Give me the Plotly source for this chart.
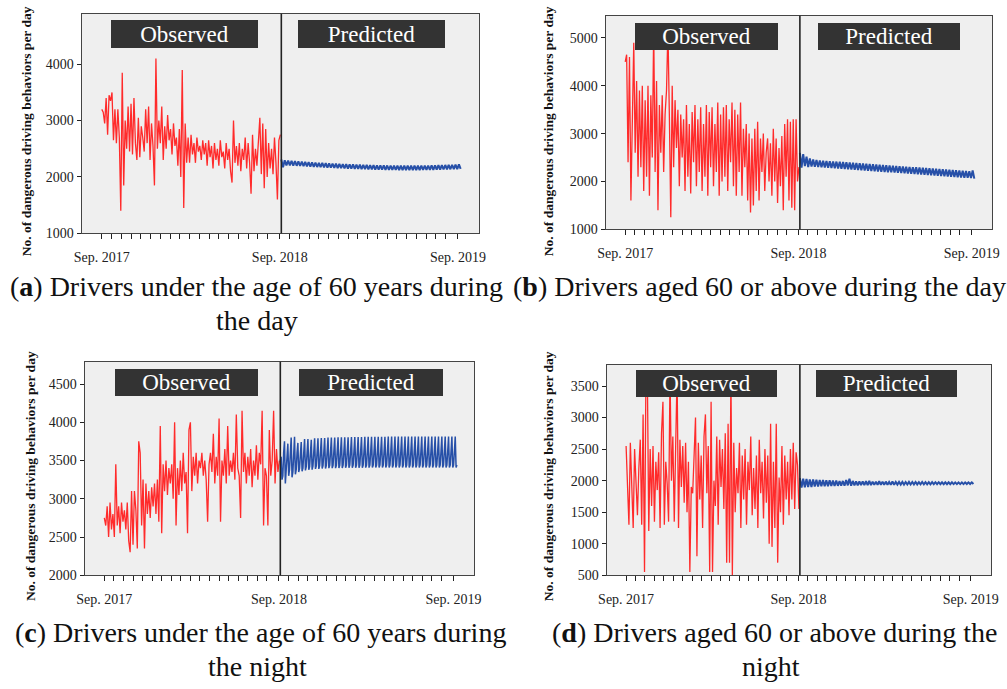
import plotly.graph_objects as go

W, H = 1007, 689

# ---------------- data ----------------
OBS_STEP = 3          # days between observed samples (day 0 = Sep. 2017)
PRED_START = 368      # first predicted day
WEEK = 7

TICK_DAYS = [0, 365, 730]
TICK_TEXT = ["Sep. 2017", "Sep. 2018", "Sep. 2019"]
MINOR_TICK_DAYS = [0, 20, 40, 60, 80, 100, 120, 140, 160, 180, 200, 220, 240, 260,
                   280, 300, 320, 340, 365, 385, 405, 425, 445, 465, 485, 505, 525,
                   545, 565, 585, 605, 625, 645, 665, 685, 705, 730]

OBS_A = [3200, 3150, 2950, 3400, 2750, 3450, 3350, 3500, 2650, 3200,
         2600, 3200, 2700, 1400, 3850, 1850, 3000, 2500, 3250, 2450,
         3300, 2400, 3400, 2600, 2300, 3050, 2350, 2900, 2700, 2450,
         3200, 2600, 3250, 2300, 2950, 2550, 1850, 4100, 2500, 3000,
         2600, 3250, 2300, 2900, 2500, 3100, 2650, 2850, 2400, 2950,
         2550, 2700, 2200, 2850, 2000, 3900, 1450, 2950, 2250, 2700,
         2250, 2750, 2400, 2600, 2250, 2700, 2450, 2550, 2300, 2650,
         2400, 2600, 2200, 2650, 2350, 2550, 2150, 2600, 2300, 2500,
         2200, 2650, 2350, 2450, 2150, 2600, 2300, 2500, 2100, 1900,
         3000, 2250, 2550, 2200, 2600, 2100, 2500, 2300, 2700, 2150,
         2600, 2250, 1700, 2750, 2100, 2500, 2200, 2650, 3050, 2050,
         2950, 1800, 2850, 2000, 2600, 2150, 2500, 2050, 2700, 2250,
         1600, 2650, 2750]

OBS_B = [4500, 4650, 2400, 4600, 1600, 3100, 4900, 2600, 4100, 2100,
         3900, 2300, 4000, 1800, 3700, 2100, 4000, 1700, 3800, 2500,
         5200, 2200, 4100, 1400, 3600, 2600, 3800, 2200, 3400, 3900,
         5200, 3400, 1250, 4000, 2300, 3700, 2700, 3500, 1900, 3400,
         2500, 3300, 1800, 3600, 2100, 3200, 1750, 3450, 2400, 3600,
         1900, 3300, 2200, 3550, 1800, 3200, 2100, 3600, 1700, 3450,
         2300, 3550, 1900, 3200, 2200, 3650, 1700, 3400, 2000, 3550,
         2100, 3600, 1800, 3300, 2400, 3650, 1900, 3500, 1700, 3400,
         2200, 3650, 1700, 3100, 2300, 3200, 1600, 3000, 1350, 2900,
         1500, 3100, 1800, 3250, 1600, 2900, 2200, 3000, 1800, 2600,
         2900, 2000, 2800, 1700, 3100, 2000, 2900, 1550, 2700, 1900,
         2950, 1400, 3200, 2100, 3300, 1600, 3250, 1450, 3300, 1400,
         3300, 2000, 2300]

OBS_C = [2750, 2650, 2900, 2500, 2950, 2600, 2800, 2500, 3450, 2650,
         2900, 2550, 2950, 2700, 2850, 2600, 2950, 2450, 2300, 3100,
         2400, 3100, 2850, 2350, 3750, 3600, 2650, 3250, 2350, 3200,
         2800, 3100, 2750, 3150, 2900, 3200, 2800, 3250, 2700, 3950,
         2550, 3450, 3100, 3500, 3050, 3400, 3200, 3450, 3000, 4000,
         2650, 3400, 3050, 3500, 3100, 3600, 3200, 3350, 2550, 3900,
         4000, 3100, 3550, 3300, 3600, 3200, 3500, 3400, 3600, 3300,
         3500, 3250, 2700, 3450, 3600, 3350, 3850, 3200, 3550, 3300,
         4050, 2700, 3500, 3300, 3650, 3200, 3950, 3300, 3500, 3350,
         3600, 3250, 4100, 3400, 3300, 2750, 4150, 3350, 3600, 3200,
         3550, 3300, 3650, 3150, 3500, 3300, 3700, 3250, 3600, 3450,
         4150, 2650, 3400, 3300, 2650, 3900, 3300, 3500, 4150, 3200,
         3650, 3350, 3500]

OBS_D = [2550, 1750, 1300, 2600, 1800, 1250, 2500, 1900, 1450, 2200,
         2650, 1300, 3050, 550, 3700, 3700, 1200, 2500, 1600, 2550,
         1350, 2300, 1850, 2450, 1250, 2750, 3250, 1300, 2300, 1950,
         1350, 3700, 2000, 2700, 1350, 2550, 3700, 1250, 2650, 1900,
         2550, 1650, 2600, 1500, 2300, 550, 1900, 1800, 2600, 3000,
         800, 2600, 1700, 2400, 1250, 2700, 3050, 1800, 2550, 550,
         3250, 550, 2000, 1600, 2700, 1300, 2650, 1900, 2500, 1550,
         2750, 700, 2900, 700, 3700, 500, 2600, 1500, 2200, 1800,
         2600, 1250, 2400, 1700, 2500, 1300, 2300, 1850, 2700, 1450,
         2200, 1550, 2400, 1250, 2650, 1800, 2300, 1400, 2500, 1650,
         2400, 1000, 2900, 950, 2300, 1250, 2900, 700, 2050, 1500,
         2550, 1300, 2400, 1700, 2300, 1450, 2500, 1700, 2600, 1550,
         2450, 2250, 1550]

# weekly predicted envelopes (53 weeks)
PRED_A_HIGH = [2310, 2295, 2290, 2285, 2280, 2275, 2270, 2266, 2262, 2258,
               2255, 2251, 2248, 2244, 2241, 2238, 2235, 2232, 2229, 2226,
               2224, 2222, 2219, 2217, 2215, 2213, 2211, 2209, 2207, 2206,
               2204, 2203, 2202, 2201, 2200, 2200, 2199, 2199, 2199, 2200,
               2200, 2201, 2202, 2203, 2204, 2206, 2208, 2210, 2212, 2214,
               2216, 2219, 2222]
PRED_A_LOW = [2170, 2205, 2205, 2202, 2198, 2194, 2190, 2186, 2183, 2180,
              2176, 2173, 2170, 2166, 2163, 2160, 2157, 2154, 2151, 2148,
              2146, 2144, 2141, 2139, 2137, 2135, 2133, 2131, 2129, 2128,
              2126, 2125, 2124, 2123, 2122, 2122, 2121, 2121, 2121, 2122,
              2122, 2123, 2124, 2125, 2126, 2128, 2130, 2132, 2134, 2136,
              2138, 2140, 2142]

PRED_B_HIGH = [2600, 2570, 2520, 2480, 2460, 2450, 2440, 2435, 2430, 2425,
               2420, 2415, 2410, 2405, 2400, 2395, 2390, 2385, 2380, 2375,
               2370, 2365, 2360, 2355, 2350, 2345, 2340, 2335, 2330, 2325,
               2320, 2315, 2310, 2305, 2300, 2295, 2290, 2285, 2280, 2275,
               2270, 2265, 2260, 2255, 2250, 2245, 2240, 2235, 2230, 2225,
               2220, 2215, 2230]
PRED_B_LOW = [2290, 2320, 2300, 2310, 2305, 2300, 2295, 2290, 2285, 2280,
              2275, 2270, 2265, 2260, 2255, 2250, 2245, 2240, 2235, 2230,
              2225, 2220, 2215, 2210, 2205, 2200, 2195, 2190, 2185, 2180,
              2175, 2170, 2165, 2160, 2155, 2150, 2145, 2140, 2135, 2130,
              2125, 2120, 2115, 2110, 2105, 2100, 2095, 2090, 2085, 2080,
              2075, 2070, 2060]

PRED_C_PEAK = [3550, 3750, 3720, 3800, 3810, 3730, 3740, 3780, 3780, 3770,
               3790, 3790, 3795, 3795, 3800, 3800, 3800, 3805, 3805, 3805,
               3805, 3808, 3808, 3808, 3808, 3810, 3810, 3810, 3810, 3810,
               3810, 3810, 3812, 3812, 3812, 3812, 3812, 3812, 3812, 3812,
               3812, 3812, 3812, 3812, 3812, 3812, 3812, 3812, 3812, 3812,
               3812, 3812, 3812]
PRED_C_LOW = [3250, 3200, 3300, 3280, 3320, 3350, 3360, 3370, 3380, 3380,
              3390, 3390, 3395, 3395, 3400, 3400, 3400, 3402, 3402, 3404,
              3404, 3405, 3405, 3406, 3406, 3407, 3407, 3408, 3408, 3408,
              3409, 3409, 3409, 3410, 3410, 3410, 3410, 3410, 3410, 3410,
              3410, 3410, 3410, 3410, 3410, 3410, 3410, 3410, 3410, 3410,
              3410, 3410, 3410]
PRED_C_CORE_HI = [3500, 3600, 3550, 3600, 3580, 3600, 3580, 3600, 3600, 3600,
                  3610, 3610, 3610, 3615, 3615, 3615, 3620, 3620, 3620, 3620,
                  3620, 3620, 3620, 3620, 3620, 3620, 3620, 3620, 3620, 3620,
                  3620, 3620, 3620, 3620, 3620, 3620, 3620, 3620, 3620, 3620,
                  3620, 3620, 3620, 3620, 3620, 3620, 3620, 3620, 3620, 3620,
                  3620, 3620, 3620]
PRED_C_CORE_LO = [3300, 3350, 3380, 3350, 3380, 3400, 3400, 3420, 3420, 3430,
                  3430, 3432, 3434, 3435, 3436, 3437, 3438, 3438, 3439, 3439,
                  3440, 3440, 3440, 3440, 3440, 3440, 3440, 3440, 3440, 3440,
                  3440, 3440, 3440, 3440, 3440, 3440, 3440, 3440, 3440, 3440,
                  3440, 3440, 3440, 3440, 3440, 3440, 3440, 3440, 3440, 3440,
                  3440, 3440, 3440]

PRED_D_HIGH = [2040, 2030, 2025, 2020, 2020, 2015, 2010, 2010, 2005, 2005,
               2000, 2000, 1995, 1995, 2010, 2030, 1995, 1990, 1990, 1990,
               1990, 1995, 1985, 1985, 1990, 1985, 1985, 1980, 1985, 1980,
               1980, 1980, 1978, 1980, 1978, 1978, 1976, 1978, 1976, 1976,
               1975, 1975, 1975, 1974, 1974, 1974, 1973, 1973, 1973, 1972,
               1972, 1972, 1972]
PRED_D_LOW = [1890, 1895, 1900, 1900, 1905, 1905, 1910, 1910, 1912, 1915,
              1915, 1918, 1920, 1920, 1925, 1920, 1925, 1925, 1928, 1928,
              1930, 1930, 1932, 1932, 1934, 1934, 1935, 1936, 1936, 1937,
              1938, 1938, 1939, 1939, 1940, 1940, 1941, 1941, 1942, 1942,
              1943, 1943, 1943, 1944, 1944, 1944, 1945, 1945, 1945, 1945,
              1946, 1946, 1946]

Y_TICKS_A = [1000, 2000, 3000, 4000]
Y_TICKS_B = [1000, 2000, 3000, 4000, 5000]
Y_TICKS_C = [2000, 2500, 3000, 3500, 4000, 4500]
Y_TICKS_D = [500, 1000, 1500, 2000, 2500, 3000, 3500]

Y_TITLE = "No. of dangerous driving behaviors per day"
CAPTIONS = {
    "a": ["(<b>a</b>) Drivers under the age of 60 years during", "the day"],
    "b": ["(<b>b</b>) Drivers aged 60 or above during the day"],
    "c": ["(<b>c</b>) Drivers under the age of 60 years during", "the night"],
    "d": ["(<b>d</b>) Drivers aged 60 or above during the", "night"],
}

# ---------------- styling ----------------
RED = "#ff2b2b"
BLUE = "#2750a8"
SERIF = "Liberation Serif, Times New Roman, serif"
X_RANGE = [-41, 773]
DIVIDER_DAY = 368


def px_x(p):
    return p / W


def px_y(p):
    return 1 - p / H


panels = [
    dict(obs=OBS_A, pred=[PRED_A_HIGH, PRED_A_LOW], yr=[1000, 4895], yt=Y_TICKS_A,
         box=(74, 478, 14, 236), title=(18, 133), pw=2.0,
         obs_box=(179, 34, 147, 28), pred_box=(369, 34, 147, 28)),
    dict(obs=OBS_B, pred=[PRED_B_HIGH, PRED_B_LOW], yr=[1000, 5463], yt=Y_TICKS_B,
         box=(607, 1000, 16, 232), title=(549, 133), pw=2.0,
         obs_box=(709, 36.5, 143, 27), pred_box=(895, 36.5, 142, 27)),
    dict(obs=OBS_C, pred=[PRED_C_CORE_HI, PRED_C_PEAK, PRED_C_LOW, PRED_C_CORE_LO],
         yr=[2000, 4791], yt=Y_TICKS_C, pw=1.5,
         box=(77, 473, 366, 582), title=(22, 482),
         obs_box=(181, 386.5, 143, 27), pred_box=(368, 386.5, 144, 27)),
    dict(obs=OBS_D, pred=[PRED_D_HIGH, PRED_D_LOW], yr=[500, 3838], yt=Y_TICKS_D,
         box=(608, 999, 369, 582), title=(549, 482), pw=2.0,
         obs_box=(709, 387.5, 141, 27), pred_box=(893, 387.5, 141, 27)),
]

fig = go.Figure()
annotations = []
shapes = []

for i, p in enumerate(panels, start=1):
    xa = "x" if i == 1 else f"x{i}"
    ya = "y" if i == 1 else f"y{i}"
    # observed
    obs_x = [k * OBS_STEP for k in range(len(p["obs"]))]
    fig.add_trace(go.Scatter(x=obs_x, y=p["obs"], mode="lines",
                             line=dict(color=RED, width=1.3),
                             xaxis=xa, yaxis=ya, showlegend=False, hoverinfo="skip"))
    # predicted: weekly zig-zag through the read envelope values
    series = p["pred"]
    n = len(series)
    px_, py_ = [], []
    for k in range(len(series[0])):
        for j in range(n):
            px_.append(PRED_START + WEEK * k + WEEK * j / n)
            py_.append(series[j][k])
    fig.add_trace(go.Scatter(x=px_, y=py_, mode="lines",
                             line=dict(color=BLUE, width=p["pw"]),
                             xaxis=xa, yaxis=ya, showlegend=False, hoverinfo="skip"))

    l, r, t, b = p["box"]
    axis_common = dict(showgrid=False, zeroline=False, showline=True, mirror=True,
                       linecolor="#444", linewidth=1.3, ticks="outside",
                       tickcolor="#222", tickfont=dict(family=SERIF, size=14, color="#222"))
    fig.layout[("xaxis" if i == 1 else f"xaxis{i}")] = dict(
        domain=[px_x(l), px_x(r)], anchor=ya, range=X_RANGE,
        tickmode="array", tickvals=TICK_DAYS, ticktext=TICK_TEXT, ticklen=5,
        ticklabelstandoff=6,
        minor=dict(tickmode="array", tickvals=MINOR_TICK_DAYS, ticks="outside",
                   ticklen=5, tickcolor="#222"),
        **axis_common)
    fig.layout[("yaxis" if i == 1 else f"yaxis{i}")] = dict(
        domain=[px_y(b), px_y(t)], anchor=xa, range=p["yr"],
        tickmode="array", tickvals=p["yt"], ticklen=4, **axis_common)

    # divider between observed and predicted
    shapes.append(dict(type="line", xref=xa, yref=f"{ya} domain", x0=DIVIDER_DAY, x1=DIVIDER_DAY,
                       y0=0, y1=1, line=dict(color="#222", width=1.6), layer="above"))

    # y-axis title
    tx, ty = p["title"]
    annotations.append(dict(text=f"<b>{Y_TITLE}</b>", xref="paper", yref="paper",
                            x=px_x(tx), y=px_y(ty), textangle=-90, showarrow=False,
                            font=dict(family=SERIF, size=13.5, color="#111"),
                            xanchor="center", yanchor="middle"))
    # Observed / Predicted labels
    for label, (cx, cy, bw, bh) in (("Observed", p["obs_box"]), ("Predicted", p["pred_box"])):
        annotations.append(dict(text=label, xref="paper", yref="paper",
                                x=px_x(cx), y=px_y(cy), showarrow=False,
                                width=bw, height=bh, borderpad=0, borderwidth=0,
                                bgcolor="#333333", align="center", valign="middle",
                                font=dict(family=SERIF, size=23, color="white"),
                                xanchor="center", yanchor="middle"))

# captions
CAP_FONT = dict(family=SERIF, size=28, color="#111")
cap_pos = [
    ("a", 0, 505, 290, "right"), ("a", 1, 252, 324, "center"),
    ("b", 0, 511, 290, "left"),
    ("c", 0, 508, 640, "right"), ("c", 1, 253, 674, "center"),
    ("d", 0, 550, 640, "left"), ("d", 1, 775, 674, "center"),
]
for key, line, cx, cy, anchor in cap_pos:
    annotations.append(dict(text=CAPTIONS[key][line], xref="paper", yref="paper",
                            x=px_x(cx), y=px_y(cy), showarrow=False,
                            font=CAP_FONT, xanchor=anchor, yanchor="middle"))

fig.update_layout(width=W, height=H, margin=dict(l=0, r=0, t=0, b=0),
                  paper_bgcolor="white", plot_bgcolor="#efefef",
                  annotations=annotations, shapes=shapes, showlegend=False)

fig.write_html("out.html", config={"displayModeBar": False},
               post_script="document.body.style.margin='0';document.body.style.overflow='hidden';")
